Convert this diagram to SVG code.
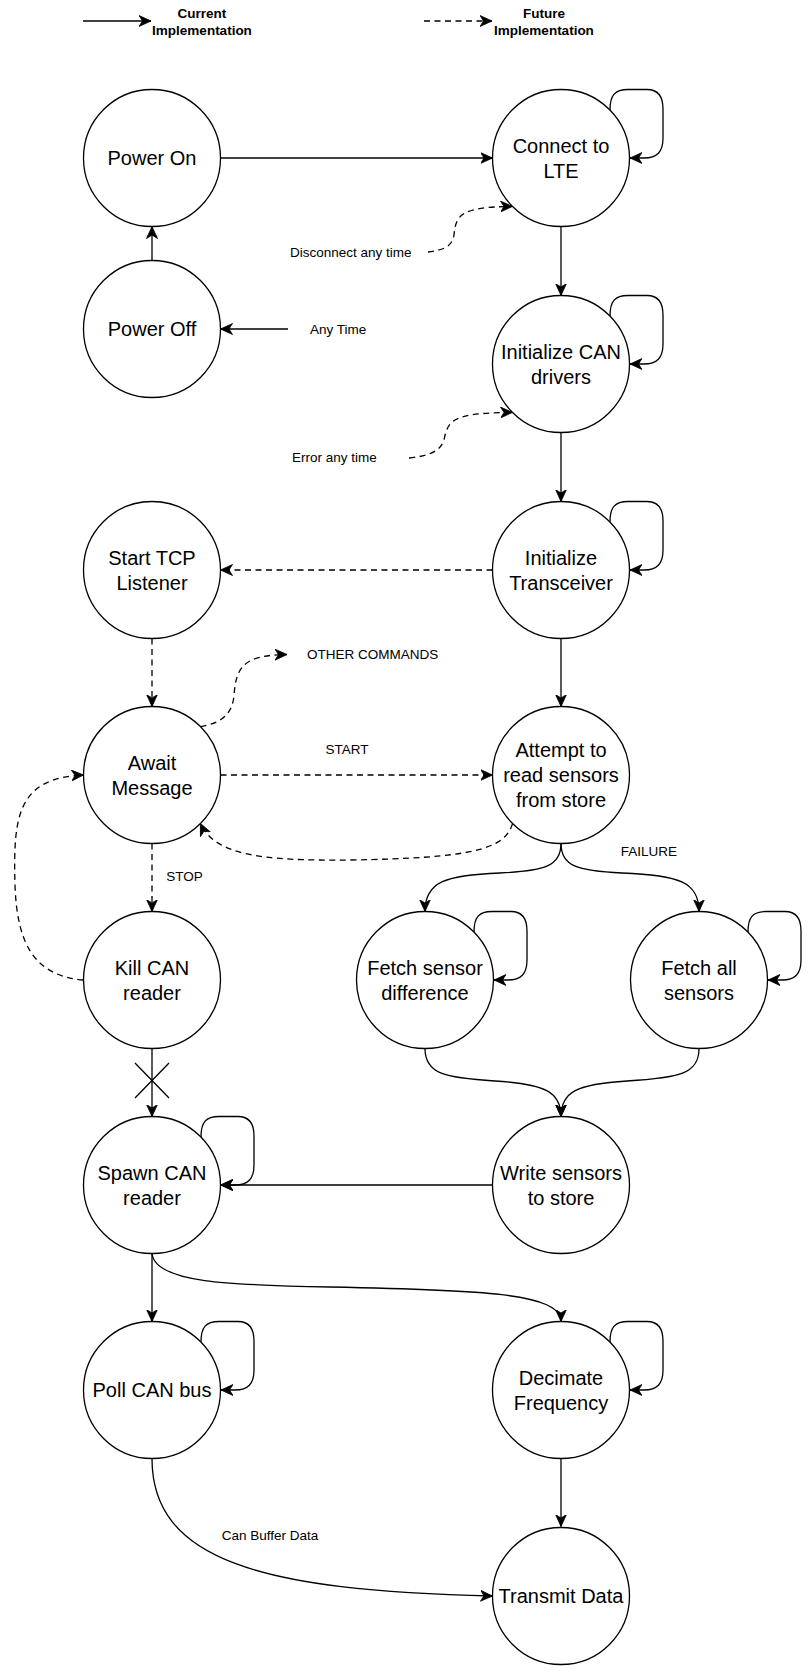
<svg xmlns="http://www.w3.org/2000/svg" width="808" height="1674" viewBox="0 0 808 1674">
<style>
.node circle{fill:#fff;stroke:#000;stroke-width:1.3}
.node text{font-family:"Liberation Sans",Arial,Helvetica,sans-serif;font-size:20px;text-anchor:middle;fill:#000}
.edge{fill:none;stroke:#000;stroke-width:1.3;marker-end:url(#arr)}
.plain{fill:none;stroke:#000;stroke-width:1.3}
.dash{stroke-dasharray:6 4.5}
.lbl{font-family:"Liberation Sans",Arial,Helvetica,sans-serif;font-size:13.5px;fill:#000}
.mid{text-anchor:middle}
.bold{font-weight:bold}
</style>
<defs>
<marker id="arr" viewBox="0 0 12 12" refX="12" refY="6" markerWidth="12" markerHeight="12" orient="auto" markerUnits="userSpaceOnUse">
<path d="M12 6 L0 0.5 L3.5 6 L0 11.5 Z" fill="#000" stroke="#000" stroke-width="0.8" stroke-linejoin="miter"/>
</marker>
<path id="loop" d="M49 -48 C49 -63 54 -68.5 67 -68.5 L86 -68.5 C97 -68.5 102 -62 102 -49 L102 -20 C102 -6 96 0 83 0 L69 0"/>
</defs>
<rect width="808" height="1674" fill="#fff"/>

<g id="legend">
<path class="edge" d="M83 21 L151 21"/>
<text class="lbl mid bold" x="202" y="17.5">Current</text>
<text class="lbl mid bold" x="202" y="34.5">Implementation</text>
<path class="edge dash" d="M424 21 L492 21"/>
<text class="lbl mid bold" x="544" y="17.5">Future</text>
<text class="lbl mid bold" x="544" y="34.5">Implementation</text>
</g>

<g id="connectors">
<path class="edge" d="M220.5 158 L492.5 158"/>
<path class="edge" d="M152 260.5 L152 226.5"/>
<path class="edge" d="M288 329 L220.5 329"/>
<path class="edge" transform="translate(561,158)" d="M49 -48 C49 -63 54 -68.5 67 -68.5 L86 -68.5 C97 -68.5 102 -62 102 -49 L102 -20 C102 -6 96 0 83 0 L69 0"/>
<path class="edge" d="M561 226.5 L561 295.5"/>
<path class="edge dash" d="M428 252 C445 250 452 246 454 235 C456 215 460 207 512.5 206.4"/>
<path class="edge" transform="translate(561,364)" d="M49 -48 C49 -63 54 -68.5 67 -68.5 L86 -68.5 C97 -68.5 102 -62 102 -49 L102 -20 C102 -6 96 0 83 0 L69 0"/>
<path class="edge dash" d="M409 458 C428 456 440 452 444 440 C448 420 452 413 512.5 412.4"/>
<path class="edge" d="M561 432.5 L561 501.5"/>
<path class="edge" transform="translate(561,570)" d="M49 -48 C49 -63 54 -68.5 67 -68.5 L86 -68.5 C97 -68.5 102 -62 102 -49 L102 -20 C102 -6 96 0 83 0 L69 0"/>
<path class="edge dash" d="M492.5 570 L220.5 570"/>
<path class="edge dash" d="M152 638.5 L152 706.5"/>
<path class="edge" d="M561 638.5 L561 706.5"/>
<path class="edge dash" d="M200.4 726.6 C222 723 232 714 234 696 C236 668 242 655 287 654.5"/>
<path class="edge dash" d="M220.5 775 L492.5 775"/>
<path class="edge dash" d="M512.6 823.4 C505 850 470 858 350 860 C260 861 215 855 200.4 823.4"/>
<path class="edge dash" d="M152 843.5 L152 911.5"/>
<path class="edge dash" d="M83.5 980 C35 976 17 945 15 885 C13 815 18 778 83.5 775"/>
<path class="edge" d="M152 1048.5 L152 1116.5"/>
<path class="plain" d="M135 1063 L169 1098 M169 1063 L135 1098"/>
<path class="edge" d="M561 843.5 C561 866 545 871 500 873 C445 875 425 882 425 911.5"/>
<path class="edge" d="M561 843.5 C561 866 577 871 622 873 C679 875 699 882 699 911.5"/>
<path class="edge" transform="translate(425,980)" d="M49 -48 C49 -63 54 -68.5 67 -68.5 L86 -68.5 C97 -68.5 102 -62 102 -49 L102 -20 C102 -6 96 0 83 0 L69 0"/>
<path class="edge" transform="translate(699,980)" d="M49 -48 C49 -63 54 -68.5 67 -68.5 L86 -68.5 C97 -68.5 102 -62 102 -49 L102 -20 C102 -6 96 0 83 0 L69 0"/>
<path class="edge" d="M425 1048.5 C425 1074 445 1078 495 1081 C545 1084 561 1092 561 1116.5"/>
<path class="edge" d="M699 1048.5 C699 1074 679 1078 627 1081 C577 1084 561 1092 561 1116.5"/>
<path class="edge" d="M492.5 1185 L220.5 1185"/>
<path class="edge" transform="translate(152,1185)" d="M49 -48 C49 -63 54 -68.5 67 -68.5 L86 -68.5 C97 -68.5 102 -62 102 -49 L102 -20 C102 -6 96 0 83 0 L69 0"/>
<path class="edge" d="M152 1253.5 L152 1321.5"/>
<path class="edge" d="M152 1253.5 C155 1283 230 1285 330 1287 C480 1290 561 1293 561 1321.5"/>
<path class="edge" transform="translate(152,1390)" d="M49 -48 C49 -63 54 -68.5 67 -68.5 L86 -68.5 C97 -68.5 102 -62 102 -49 L102 -20 C102 -6 96 0 83 0 L69 0"/>
<path class="edge" transform="translate(561,1390)" d="M49 -48 C49 -63 54 -68.5 67 -68.5 L86 -68.5 C97 -68.5 102 -62 102 -49 L102 -20 C102 -6 96 0 83 0 L69 0"/>
<path class="edge" d="M561 1458.5 L561 1526.5"/>
<path class="edge" d="M152 1458.5 C152 1560 260 1591 492.5 1596"/>
</g>

<g id="labels">
<text class="lbl" x="290" y="256.5">Disconnect any time</text>
<text class="lbl" x="310" y="333.5">Any Time</text>
<text class="lbl" x="292" y="461.5">Error any time</text>
<text class="lbl" x="307" y="658.5">OTHER COMMANDS</text>
<text class="lbl mid" x="347" y="753.5">START</text>
<text class="lbl mid" x="184.5" y="880.5">STOP</text>
<text class="lbl mid" x="649" y="855.5">FAILURE</text>
<text class="lbl mid" x="270" y="1540">Can Buffer Data</text>
</g>

<g id="power-on" class="node"><circle cx="152" cy="158" r="68.5"/><text x="152" y="165">Power On</text></g>
<g id="connect-lte" class="node"><circle cx="561" cy="158" r="68.5"/><text x="561" y="152.5"><tspan x="561">Connect to</tspan><tspan x="561" dy="25">LTE</tspan></text></g>
<g id="power-off" class="node"><circle cx="152" cy="329" r="68.5"/><text x="152" y="336">Power Off</text></g>
<g id="init-can" class="node"><circle cx="561" cy="364" r="68.5"/><text x="561" y="358.5"><tspan x="561">Initialize CAN</tspan><tspan x="561" dy="25">drivers</tspan></text></g>
<g id="start-tcp" class="node"><circle cx="152" cy="570" r="68.5"/><text x="152" y="564.5"><tspan x="152">Start TCP</tspan><tspan x="152" dy="25">Listener</tspan></text></g>
<g id="init-transceiver" class="node"><circle cx="561" cy="570" r="68.5"/><text x="561" y="564.5"><tspan x="561">Initialize</tspan><tspan x="561" dy="25">Transceiver</tspan></text></g>
<g id="await-message" class="node"><circle cx="152" cy="775" r="68.5"/><text x="152" y="769.5"><tspan x="152">Await</tspan><tspan x="152" dy="25">Message</tspan></text></g>
<g id="attempt-read" class="node"><circle cx="561" cy="775" r="68.5"/><text x="561" y="757"><tspan x="561">Attempt to</tspan><tspan x="561" dy="25">read sensors</tspan><tspan x="561" dy="25">from store</tspan></text></g>
<g id="kill-can" class="node"><circle cx="152" cy="980" r="68.5"/><text x="152" y="974.5"><tspan x="152">Kill CAN</tspan><tspan x="152" dy="25">reader</tspan></text></g>
<g id="fetch-diff" class="node"><circle cx="425" cy="980" r="68.5"/><text x="425" y="974.5"><tspan x="425">Fetch sensor</tspan><tspan x="425" dy="25">difference</tspan></text></g>
<g id="fetch-all" class="node"><circle cx="699" cy="980" r="68.5"/><text x="699" y="974.5"><tspan x="699">Fetch all</tspan><tspan x="699" dy="25">sensors</tspan></text></g>
<g id="spawn-can" class="node"><circle cx="152" cy="1185" r="68.5"/><text x="152" y="1179.5"><tspan x="152">Spawn CAN</tspan><tspan x="152" dy="25">reader</tspan></text></g>
<g id="write-sensors" class="node"><circle cx="561" cy="1185" r="68.5"/><text x="561" y="1179.5"><tspan x="561">Write sensors</tspan><tspan x="561" dy="25">to store</tspan></text></g>
<g id="poll-can" class="node"><circle cx="152" cy="1390" r="68.5"/><text x="152" y="1397">Poll CAN bus</text></g>
<g id="decimate" class="node"><circle cx="561" cy="1390" r="68.5"/><text x="561" y="1384.5"><tspan x="561">Decimate</tspan><tspan x="561" dy="25">Frequency</tspan></text></g>
<g id="transmit" class="node"><circle cx="561" cy="1596" r="68.5"/><text x="561" y="1603">Transmit Data</text></g>
</svg>
